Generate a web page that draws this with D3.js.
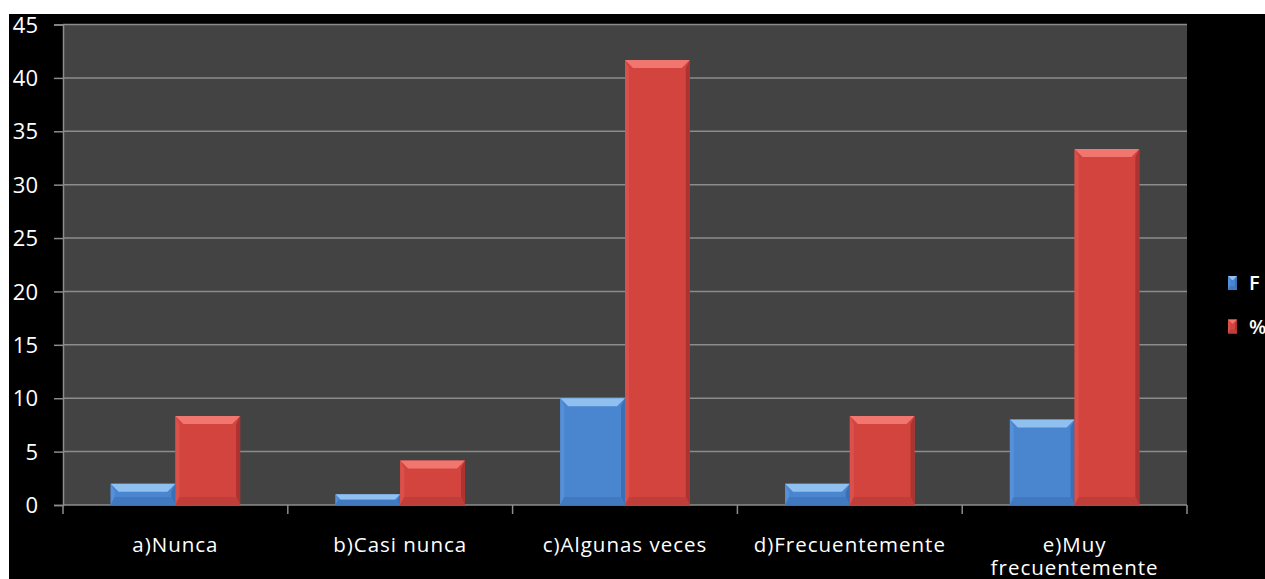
<!DOCTYPE html>
<html><head><meta charset="utf-8">
<script src="https://cdn.jsdelivr.net/npm/d3@7"></script>
<style>html,body{margin:0;padding:0;background:#fff;}svg{display:block;}</style>
</head><body>
<svg id="c" width="1265" height="579"></svg>
<script>
const categories = ["a)Nunca", "b)Casi nunca", "c)Algunas veces", "d)Frecuentemente", "e)Muy frecuentemente"];
const seriesNames = ["F", "%"];
const valuesF = [2, 1, 10, 2, 8];
const valuesPct = [8.33, 4.17, 41.67, 8.33, 33.33];
const yTicks = [0, 5, 10, 15, 20, 25, 30, 35, 40, 45];

const svg = d3.select("#c");
const W = 1265, H = 579;
const plot = {left: 63, right: 1187, top: 24.5, bottom: 505};
const font = "'Open Sans', Lato, sans-serif";

// black frame
svg.append("rect").attr("x", 9).attr("y", 14).attr("width", W - 9).attr("height", H - 14).attr("fill", "#000");
svg.append("rect").attr("x", plot.left).attr("y", plot.top).attr("width", plot.right - plot.left)
  .attr("height", plot.bottom - plot.top).attr("fill", "#434343");

const x0 = d3.scaleBand().domain(categories).range([plot.left, plot.right]).paddingInner(0).paddingOuter(0);
const y = d3.scaleLinear().domain([0, 45]).range([plot.bottom, plot.top]);
const groupPad = 0.212;
const x1 = d3.scaleBand().domain(seriesNames)
  .range([x0.bandwidth() * groupPad, x0.bandwidth() * (1 - groupPad)]).padding(0);

// gridlines
svg.append("g").selectAll("line").data(yTicks.filter(t => t > 0)).join("line")
  .attr("x1", plot.left).attr("x2", plot.right)
  .attr("y1", d => y(d)).attr("y2", d => y(d))
  .attr("stroke", "#8c8c8c").attr("stroke-width", 1.5);

// y axis
const yAxis = svg.append("g").attr("transform", `translate(${plot.left},0)`)
  .call(d3.axisLeft(y).tickValues(yTicks).tickSize(9).tickPadding(16).tickFormat(d3.format("d")));
yAxis.select(".domain").attr("stroke", "#8c8c8c").attr("stroke-width", 1.5);
yAxis.selectAll(".tick line").attr("stroke", "#8c8c8c").attr("stroke-width", 1.5);
yAxis.selectAll("text").attr("fill", "#fff").style("font-family", font).style("font-size", "22px")
  .attr("dy", "0.35em");

// x axis
const xAxis = svg.append("g").attr("transform", `translate(0,${plot.bottom})`);
xAxis.append("line").attr("x1", plot.left).attr("x2", plot.right).attr("y1", 0).attr("y2", 0)
  .attr("stroke", "#8c8c8c").attr("stroke-width", 1.5);
const bounds = categories.map(c => x0(c)).concat([x0(categories[categories.length - 1]) + x0.bandwidth()]);
xAxis.selectAll("line.tk").data(bounds).join("line").attr("class", "tk")
  .attr("x1", d => d).attr("x2", d => d).attr("y1", 0).attr("y2", 9)
  .attr("stroke", "#8c8c8c").attr("stroke-width", 1.5);
const labelLines = {"e)Muy frecuentemente": ["e)Muy", "frecuentemente"]};
categories.forEach(c => {
  const lines = labelLines[c] || [c];
  const t = svg.append("text").attr("x", x0(c) + x0.bandwidth() / 2).attr("y", 552)
    .attr("text-anchor", "middle").attr("fill", "#fff")
    .style("font-family", font).style("font-size", "20.5px")
    .style("letter-spacing", "1px");
  lines.forEach((l, i) => t.append("tspan").attr("x", x0(c) + x0.bandwidth() / 2).attr("dy", i === 0 ? 0 : 23).text(l));
});

const palette = {
  "F": {main: "#4a85cf", top: "#8fc0f0", left: "#5590d8", right: "#3a6fb4", bottom: "#4079c0"},
  "%": {main: "#d4443f", top: "#f27670", left: "#dc504b", right: "#ac3331", bottom: "#bf3e3a"}
};

function bevelBar(g, xa, ya, w, h, col, bv) {
  const b = Math.min(bv, h / 2, w / 2);
  const xb = xa + w, yb = ya + h;
  g.append("rect").attr("x", xa).attr("y", ya).attr("width", w).attr("height", h).attr("fill", col.main);
  const poly = (pts, f) => g.append("polygon").attr("points", pts.map(p => p.join(",")).join(" ")).attr("fill", f);
  poly([[xa, ya], [xb, ya], [xb - b, ya + b], [xa + b, ya + b]], col.top);
  poly([[xa, ya], [xa + b * 0.5, ya + b], [xa + b * 0.5, yb - b], [xa, yb]], col.left);
  poly([[xb, ya], [xb, yb], [xb - b * 0.5, yb - b], [xb - b * 0.5, ya + b]], col.right);
  poly([[xa, yb], [xa + b * 0.5, yb - b], [xb - b * 0.5, yb - b], [xb, yb]], col.bottom);
}

const data = categories.map((c, i) => ({cat: c, vals: [{s: "F", v: valuesF[i]}, {s: "%", v: valuesPct[i]}]}));
const bars = svg.append("g");
data.forEach(d => {
  d.vals.forEach(o => {
    const xa = x0(d.cat) + x1(o.s);
    const ya = y(o.v);
    bevelBar(bars, xa, ya, x1.bandwidth(), y(0) - ya, palette[o.s], 8);
  });
});

// legend
const legend = svg.append("g");
seriesNames.forEach((s, i) => {
  const cy = 283 + i * 43.5;
  bevelBar(legend, 1228, cy - 7, 9, 14, palette[s], 4);
  legend.append("text").attr("x", 1249).attr("y", cy).attr("dy", "0.35em").attr("fill", "#fff")
    .style("font-family", font).style("font-size", "20px").style("font-weight", 600).text(s);
});
</script>
</body></html>
